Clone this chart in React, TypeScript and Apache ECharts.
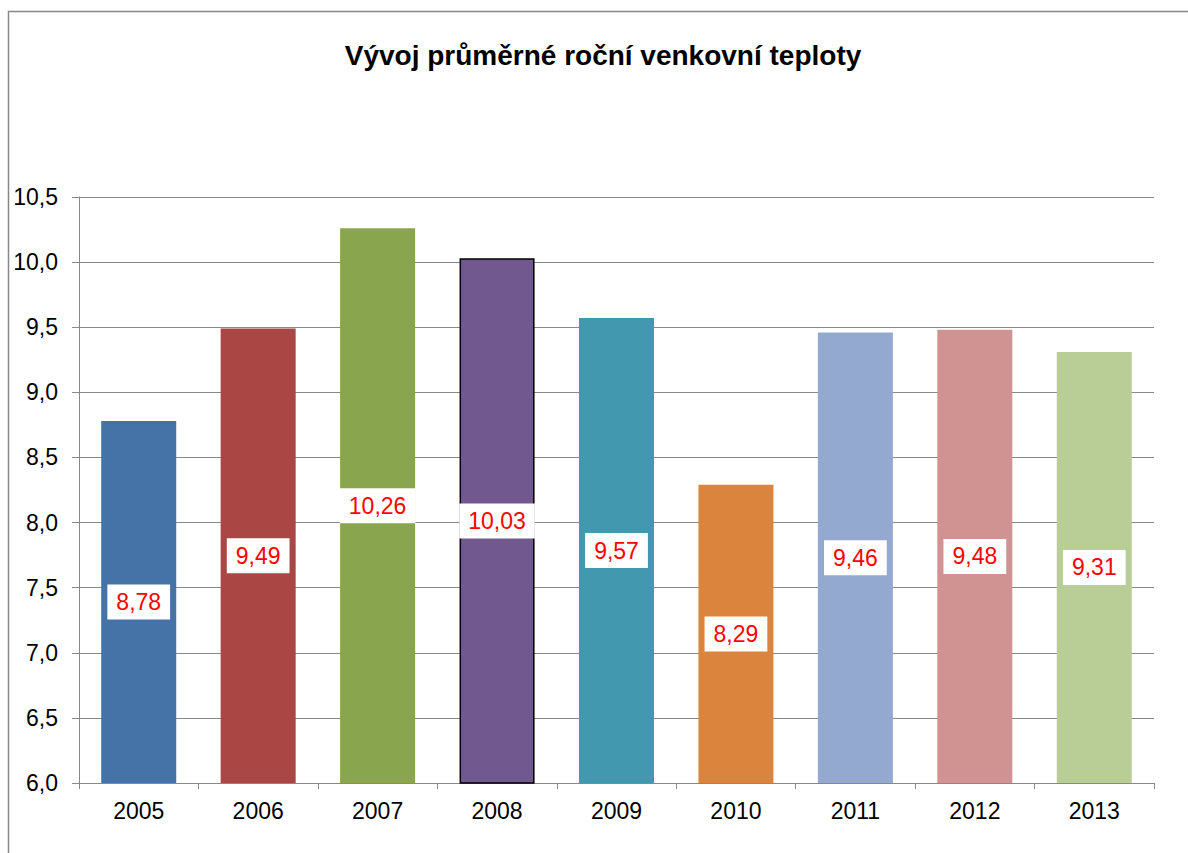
import React, { useEffect, useRef } from "react";
import * as echarts from "echarts";

const titleText = "Vývoj průměrné roční venkovní teploty";
const years = ["2005", "2006", "2007", "2008", "2009", "2010", "2011", "2012", "2013"];
const temps = [8.78, 9.49, 10.26, 10.03, 9.57, 8.29, 9.46, 9.48, 9.31];
const barColors = ["#4572A7", "#AA4643", "#89A54E", "#71588F", "#4198AF", "#DB843D", "#93A9CF", "#D19392", "#B9CD96"];
const borderedIndex = 3;

export default function App() {
  const ref = useRef<HTMLDivElement>(null);
  useEffect(() => {
    if (!ref.current) return;
    const chart = echarts.init(ref.current, null, { renderer: "svg" });
    const font = "'Liberation Sans', Arial, sans-serif";
    chart.setOption({
      animation: false,
      backgroundColor: "#ffffff",
      title: {
        text: titleText,
        left: 598,
        textAlign: "center",
        top: 36,
        textStyle: { fontFamily: font, fontSize: 28, fontWeight: "bold", color: "#000" },
      },
      graphic: [
        {
          type: "polyline",
          shape: { points: [[8.5, 900], [8.5, 11.5], [1200, 11.5]] },
          style: { stroke: "#888888", lineWidth: 1.5, fill: "none" },
          silent: true,
        },
      ],
      grid: { left: 79, right: 34, top: 197, bottom: 70 },
      xAxis: {
        type: "category",
        data: years,
        axisLine: { show: true, lineStyle: { color: "#888888", width: 1 } },
        axisTick: { show: true, length: 6, alignWithLabel: false, interval: 0, lineStyle: { color: "#888888" } },
        axisLabel: { color: "#000", fontFamily: font, fontSize: 23, margin: 16, interval: 0 },
      },
      yAxis: {
        type: "value",
        min: 6,
        max: 10.5,
        interval: 0.5,
        axisLine: { show: true, lineStyle: { color: "#888888", width: 1 } },
        axisTick: { show: true, length: 7, inside: false, lineStyle: { color: "#888888" } },
        splitLine: { show: true, lineStyle: { color: "#888888", width: 1 } },
        axisLabel: {
          color: "#000",
          fontFamily: font,
          fontSize: 23,
          margin: 21,
          formatter: (v: number) => v.toFixed(1).replace(".", ","),
        },
      },
      series: [
        {
          type: "bar",
          barWidth: 75,
          data: temps.map((v, i) => ({
            value: v,
            itemStyle: {
              color: barColors[i],
              borderColor: i === borderedIndex ? "#000000" : barColors[i],
              borderWidth: i === borderedIndex ? 1.5 : 0,
            },
          })),
          label: {
            show: true,
            position: "inside",
            color: "#FF0000",
            fontFamily: font,
            fontSize: 23,
            backgroundColor: "#ffffff",
            padding: [7, 9, 5, 9],
            formatter: (p: any) => p.value.toFixed(2).replace(".", ","),
          },
        },
      ],
    });
    return () => chart.dispose();
  }, []);
  return (
    <div
      ref={ref}
      style={{ position: "fixed", left: 0, top: 0, width: 1188, height: 853 }}
    />
  );
}
